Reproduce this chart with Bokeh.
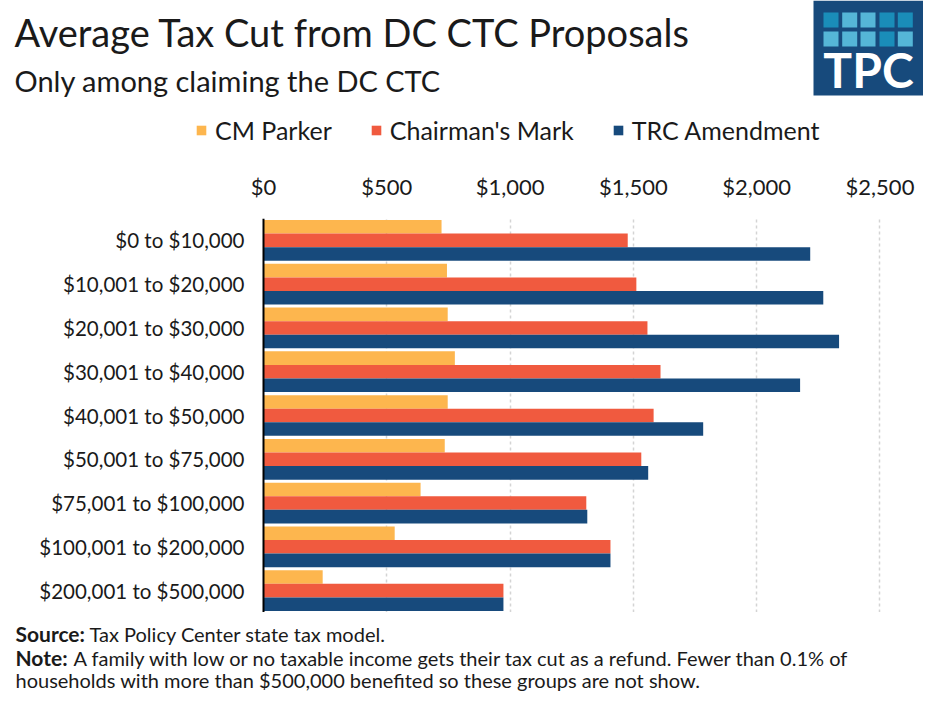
from bokeh.plotting import figure
from bokeh.models import (Range1d, FactorRange, FixedTicker, NumeralTickFormatter,
                          Legend, LegendItem, ColumnDataSource, Span)
from bokeh.transform import dodge
from bokeh.layouts import column
from bokeh.core.properties import value
from bokeh.embed import file_html
from bokeh.resources import INLINE

# ---------------- data ----------------
categories = ["$0 to $10,000", "$10,001 to $20,000", "$20,001 to $30,000",
              "$30,001 to $40,000", "$40,001 to $50,000", "$50,001 to $75,000",
              "$75,001 to $100,000", "$100,001 to $200,000", "$200,001 to $500,000"]
cm_parker = [722, 744, 747, 776, 747, 735, 637, 532, 240]
chairmans_mark = [1477, 1512, 1557, 1610, 1582, 1532, 1309, 1407, 973]
trc_amendment = [2217, 2270, 2334, 2176, 1783, 1560, 1313, 1407, 973]
series_names = ["CM Parker", "Chairman's Mark", "TRC Amendment"]
x_ticks = [0, 500, 1000, 1500, 2000, 2500]

title_text = "Average Tax Cut from DC CTC Proposals"
subtitle_text = "Only among claiming the DC CTC"
source_text = "Tax Policy Center state tax model."
note_line1 = "A family with low or no taxable income gets their tax cut as a refund. Fewer than 0.1% of"
note_line2 = "households with more than $500,000 benefited so these groups are not show."

colors = ["#FDB64E", "#F05A3F", "#174A7C"]
FONT = "Lato"
TXT = "#1a1a1a"
W = 923

# ---------------- header ----------------
HH = 152
hdr = figure(width=W, height=HH, x_range=Range1d(0, W), y_range=Range1d(HH, 0),
             x_axis_type=None, y_axis_type=None, output_backend="svg",
             toolbar_location=None, min_border=0)
hdr.grid.visible = False
hdr.outline_line_color = None

hdr.text(x=[14], y=[31], text=[title_text], text_font=value(FONT), text_font_size="38px",
         text_baseline="alphabetic", text_color=TXT)
hdr.text(x=[14], y=[80], text=[subtitle_text], text_font=value(FONT), text_font_size="29px",
         text_baseline="alphabetic", text_color=TXT)

# logo
hdr.quad(left=[813], right=[923], top=[0], bottom=[95], color="#174A7C", line_color=None)
sq_left = [823, 841.7, 860, 879, 897.3]
row1_cols = ["#1A8DB9", "#55B6D7", "#55B6D7", "#1A8DB9", "#1A8DB9"]
row2_cols = ["#55B6D7", "#55B6D7", "#55B6D7", "#1A8DB9", "#55B6D7"]
hdr.quad(left=sq_left, right=[v + 15 for v in sq_left], top=[12] * 5, bottom=[27] * 5,
         color=row1_cols, line_color=None)
hdr.quad(left=sq_left, right=[v + 15 for v in sq_left], top=[31] * 5, bottom=[46] * 5,
         color=row2_cols, line_color=None)
hdr.text(x=[868], y=[69], text=["TPC"], text_font=value(FONT), text_font_size="48px",
         text_font_style="bold", text_align="center", text_baseline="alphabetic",
         text_color="white")

# legend (drawn in header; swatch renderers sit outside the visible range)
dummies = [hdr.quad(left=[-30], right=[-20], top=[-30], bottom=[-20], color=c, line_color=None)
           for c in colors]
legend = Legend(items=[LegendItem(label=n, renderers=[r]) for n, r in zip(series_names, dummies)],
                orientation="horizontal", location=(195, 7), glyph_width=12, glyph_height=12,
                label_standoff=8, spacing=38, padding=0, margin=0,
                border_line_color=None, background_fill_alpha=0,
                label_text_font=FONT, label_text_font_size="25px", label_text_color=TXT)
hdr.add_layout(legend)

# ---------------- main chart ----------------
MH = 460
src = ColumnDataSource(dict(cat=categories, cm=cm_parker, ch=chairmans_mark, trc=trc_amendment))
p = figure(width=W, height=MH, y_range=FactorRange(*reversed(categories)),
           x_range=Range1d(-1066.5, 2676.4), x_axis_location="above", y_axis_location=None,
           output_backend="svg", toolbar_location=None,
           min_border_left=0, min_border_right=0, min_border_top=66, min_border_bottom=0)
p.outline_line_color = None

bh = 0.31
p.hbar(y=dodge("cat", bh, range=p.y_range), left=0, right="cm", height=bh, source=src,
       color=colors[0], line_color=None)
p.hbar(y=dodge("cat", 0, range=p.y_range), left=0, right="ch", height=bh, source=src,
       color=colors[1], line_color=None)
p.hbar(y=dodge("cat", -bh, range=p.y_range), left=0, right="trc", height=bh, source=src,
       color=colors[2], line_color=None)

# category labels (left of the value axis line)
p.text(x=0, y="cat", text="cat", source=src, x_offset=-19, text_align="right",
       text_baseline="middle", text_font=value(FONT), text_font_size="20.5px", text_color=TXT)
p.add_layout(Span(location=0, dimension="height", line_color="black", line_width=2))

xa = p.xaxis[0]
xa.ticker = FixedTicker(ticks=x_ticks)
xa.formatter = NumeralTickFormatter(format="$0,0")
xa.axis_line_color = None
xa.major_tick_line_color = None
xa.minor_tick_line_color = None
xa.major_tick_out = 0
xa.major_tick_in = 0
xa.minor_tick_out = 0
xa.major_label_text_font = FONT
xa.major_label_text_font_size = "22px"
xa.major_label_text_color = TXT
xa.major_label_standoff = 19

p.ygrid.visible = False
p.xgrid.grid_line_color = "#d4d4d4"
p.xgrid.grid_line_width = 1.5
p.xgrid.grid_line_dash = "3 3"
p.xgrid.ticker = FixedTicker(ticks=x_ticks[1:])

# ---------------- footer ----------------
FH = 79
ftr = figure(width=W, height=FH, x_range=Range1d(0, W), y_range=Range1d(FH, 0),
             x_axis_type=None, y_axis_type=None, output_backend="svg",
             toolbar_location=None, min_border=0)
ftr.grid.visible = False
ftr.outline_line_color = None
fs = "20px"
ftr.text(x=[15, 15], y=[21, 45], text=["Source:", "Note:"], text_font=value(FONT),
         text_font_size="21px", text_font_style="bold", text_baseline="alphabetic", text_color=TXT)
ftr.text(x=[89, 73, 15], y=[21, 45, 67], text=[source_text, note_line1, note_line2],
         text_font=value(FONT), text_font_size=fs, text_baseline="alphabetic", text_color=TXT)

layout = column(hdr, p, ftr, spacing=0)
open("out.html", "w").write(file_html(layout, INLINE))
